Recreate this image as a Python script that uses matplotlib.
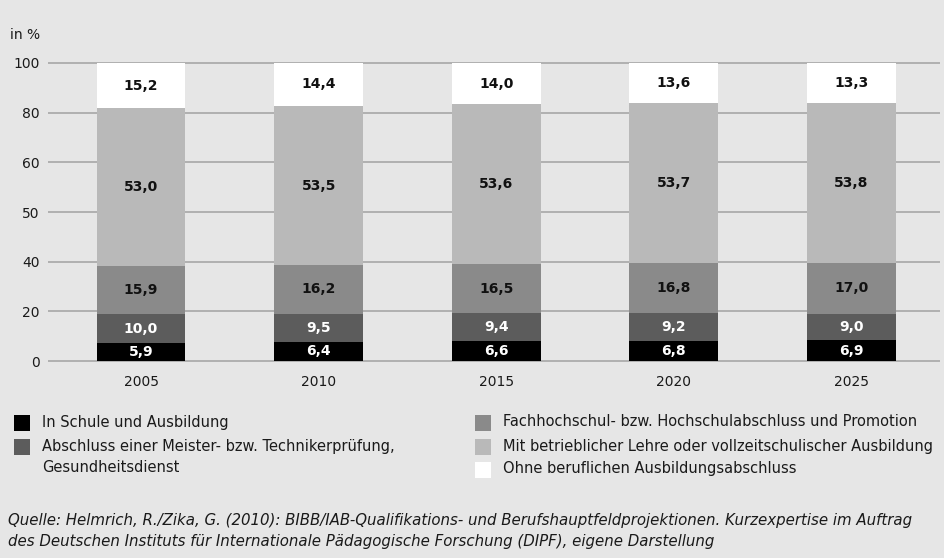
import numpy as np
import matplotlib
matplotlib.use("Agg")
import matplotlib.pyplot as plt
from matplotlib.patches import Rectangle

plt.rcParams["font.family"] = ["DejaVu Sans"]

years = ["2005", "2010", "2015", "2020", "2025"]
schule = [5.9, 6.4, 6.6, 6.8, 6.9]
meister = [10.0, 9.5, 9.4, 9.2, 9.0]
hochschule = [15.9, 16.2, 16.5, 16.8, 17.0]
lehre = [53.0, 53.5, 53.6, 53.7, 53.8]
ohne = [15.2, 14.4, 14.0, 13.6, 13.3]

series = [schule, meister, hochschule, lehre, ohne]
colors = ["#000000", "#5c5c5c", "#8a8a8a", "#b9b9b9", "#ffffff"]
text_colors = ["white", "white", "#111111", "#111111", "#111111"]
labels = [
    "In Schule und Ausbildung",
    "Abschluss einer Meister- bzw. Technikerprüfung,\nGesundheitsdienst",
    "Fachhochschul- bzw. Hochschulabschluss und Promotion",
    "Mit betrieblicher Lehre oder vollzeitschulischer Ausbildung",
    "Ohne beruflichen Ausbildungsabschluss",
]
tick_labels = ["0", "20", "40", "50", "60", "80", "100"]

bg = "#e6e6e6"
fig = plt.figure(figsize=(9.44, 5.58), dpi=100, facecolor=bg)
ax = fig.add_axes([48 / 944, 195.5 / 558, 892 / 944, 301 / 558], facecolor=bg)

x = np.arange(len(years))
bottom = np.zeros(len(years))
for vals, c, tc in zip(series, colors, text_colors):
    vals = np.array(vals)
    ax.bar(x, vals, bottom=bottom, width=0.5, color=c, zorder=3)
    for xi, b, v in zip(x, bottom, vals):
        ax.text(xi, b + v / 2, f"{v:.1f}".replace(".", ","), ha="center",
                va="center", color=tc, fontsize=10, fontweight="bold", zorder=4)
    bottom += vals

# gridlines as drawn in the original (evenly spaced)
grid_pos = np.linspace(0, 100, 7)
ax.set_yticks(grid_pos)
ax.set_yticklabels(tick_labels)
ax.grid(axis="y", color="#b0b0b0", linewidth=1.4, zorder=0)
ax.set_ylim(-0.5, 100.5)
ax.set_xlim(-0.524, 4.5)
ax.set_xticks(x)
ax.set_xticklabels(years)
ax.tick_params(axis="both", length=0, labelsize=10, colors="#1a1a1a")
ax.tick_params(axis="x", pad=9)
ax.tick_params(axis="y", pad=6)
for s in ax.spines.values():
    s.set_visible(False)

fig.text(10 / 944, 1 - 35 / 558, "in %", fontsize=10, va="center", color="#1a1a1a")

# legend
def legend_item(px, py, color, text):
    fig.patches.append(Rectangle((px / 944, 1 - (py + 8) / 558), 16 / 944, 16 / 558,
                                 transform=fig.transFigure, facecolor=color,
                                 edgecolor="none"))
    fig.text((px + 28) / 944, 1 - (py - 8.5) / 558, text, fontsize=10.5, va="top",
             color="#1a1a1a", linespacing=1.5)

legend_item(14, 423, colors[0], labels[0])
legend_item(14, 447, colors[1], labels[1])
legend_item(475, 423, colors[2], labels[2])
legend_item(475, 447, colors[3], labels[3])
legend_item(475, 470, colors[4], labels[4])

fig.text(8 / 944, 1 - 531 / 558,
         "Quelle: Helmrich, R./Zika, G. (2010): BIBB/IAB-Qualifikations- und Berufshauptfeldprojektionen. Kurzexpertise im Auftrag\n"
         "des Deutschen Instituts für Internationale Pädagogische Forschung (DIPF), eigene Darstellung",
         fontsize=10.8, style="italic", va="center", color="#1a1a1a", linespacing=1.55)

fig.savefig("out.png", dpi=100, facecolor=bg)
